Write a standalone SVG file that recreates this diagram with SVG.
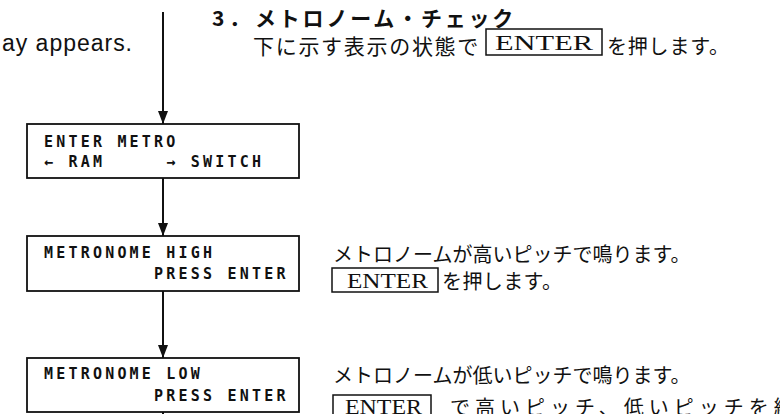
<svg xmlns="http://www.w3.org/2000/svg" width="780" height="414" viewBox="0 0 780 414">
<defs>
<style>
.bg{fill:#ffffff}
.lcd{fill:#ffffff;stroke:#111;stroke-width:1.8}
.lcdt{font-family:"DejaVu Sans Mono",monospace;font-weight:bold;font-size:15px;letter-spacing:3.2px;fill:#111;white-space:pre}
.conn{stroke:#111;stroke-width:2;fill:none}
.jp{font-family:"Noto Sans CJK JP",sans-serif;font-size:20px;fill:#111}
.jpb{font-family:"Noto Sans CJK JP",sans-serif;font-size:21px;font-weight:bold;fill:#111}
.key{fill:none;stroke:#111;stroke-width:1.5}
.keyt{font-family:"Liberation Serif",serif;font-size:21px;fill:#111}
.en{font-family:"Liberation Sans",Arial,sans-serif;font-size:23px;fill:#111}
</style>
<marker id="arr" viewBox="0 0 13 10" refX="13" refY="5" markerWidth="13" markerHeight="10" markerUnits="userSpaceOnUse" orient="auto">
<path d="M0,0 L13,5 L0,10 z" fill="#111"/>
</marker>
</defs>
<rect class="bg" x="0" y="0" width="780" height="414"/>

<g id="connectors">
<line class="conn" x1="163" y1="12" x2="163" y2="124" marker-end="url(#arr)"/>
<line class="conn" x1="163" y1="178" x2="163" y2="236" marker-end="url(#arr)"/>
<line class="conn" x1="163" y1="291" x2="163" y2="358" marker-end="url(#arr)"/>
<line class="conn" x1="163" y1="412" x2="163" y2="420"/>
</g>

<g id="node-enter-metro">
<rect class="lcd" x="27" y="124" width="272" height="54"/>
<text class="lcdt" x="44" y="147">ENTER METRO</text>
<text class="lcdt" x="44" y="167">← RAM     → SWITCH</text>
</g>

<g id="node-metronome-high">
<rect class="lcd" x="27" y="236" width="272" height="55"/>
<text class="lcdt" x="44" y="258">METRONOME HIGH</text>
<text class="lcdt" x="44" y="279">         PRESS ENTER</text>
</g>

<g id="node-metronome-low">
<rect class="lcd" x="27" y="358" width="272" height="54"/>
<text class="lcdt" x="44" y="379">METRONOME LOW</text>
<text class="lcdt" x="44" y="401">         PRESS ENTER</text>
</g>

<g id="text-left">
<text class="en" x="2" y="51" textLength="130" lengthAdjust="spacing">ay appears.</text>
</g>

<g id="text-step3">
<text class="jpb" x="212" y="26">3</text>
<text class="jpb" x="229" y="26">．</text>
<text class="jpb" x="255" y="26" style="letter-spacing:2.8px">メトロノーム・チェック</text>
<text class="jp" x="253" y="54" style="font-size:21px;letter-spacing:1.7px">下に示す表示の状態で</text>
<rect class="key" x="486" y="29" width="116" height="26"/>
<text class="keyt" x="495" y="50" textLength="98" lengthAdjust="spacingAndGlyphs">ENTER</text>
<text class="jp" x="607" y="54" style="letter-spacing:0.8px">を押します。</text>
</g>

<g id="text-high">
<text class="jp" x="333" y="262">メトロノームが高いピッチで鳴ります。</text>
<rect class="key" x="332" y="268" width="106" height="24"/>
<text class="keyt" x="347" y="288" textLength="81" lengthAdjust="spacingAndGlyphs">ENTER</text>
<text class="jp" x="442" y="289" style="letter-spacing:0.4px">を押します。</text>
</g>

<g id="text-low">
<text class="jp" x="333" y="383">メトロノームが低いピッチで鳴ります。</text>
<rect class="key" x="333" y="395" width="98" height="26"/>
<text class="keyt" x="345" y="414" textLength="77" lengthAdjust="spacingAndGlyphs">ENTER</text>
<text class="jp" x="450" y="415" style="letter-spacing:5px">で高いピッチ、低いピッチを繰</text>
</g>
</svg>
